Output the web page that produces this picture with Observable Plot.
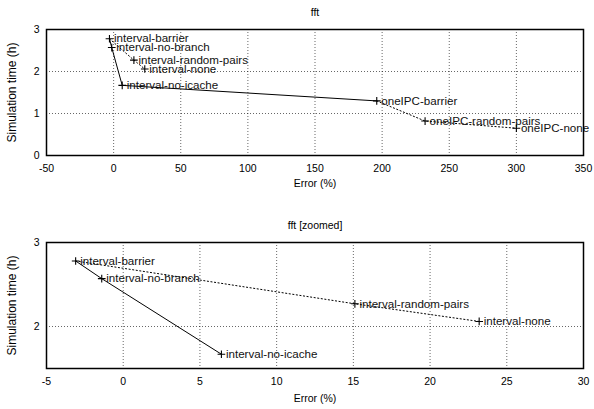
<!DOCTYPE html>
<html>
<head>
<meta charset="utf-8">
<script src="https://cdn.jsdelivr.net/npm/d3@7"></script>
<script src="https://cdn.jsdelivr.net/npm/@observablehq/plot@0.6"></script>
<style>
  html, body { margin: 0; padding: 0; background: #fff; }
  #chart svg { display: block; }
  #chart { width: 594px; }
</style>
</head>
<body>
<div id="chart"></div>
<script>
// ---- Data ----
const labels = ["interval-barrier", "interval-no-branch", "interval-no-icache", "interval-random-pairs", "interval-none", "oneIPC-barrier", "oneIPC-random-pairs", "oneIPC-none"];
const errors = [-3.1, -1.4, 6.4, 15.1, 23.2, 196, 232, 300];
const times  = [2.78, 2.57, 1.67, 2.27, 2.06, 1.30, 0.82, 0.65];

const solidPath = ["interval-barrier", "interval-no-branch", "interval-no-icache", "oneIPC-barrier"];
const dottedPaths = [
  ["interval-barrier", "interval-random-pairs", "interval-none"],
  ["oneIPC-barrier", "oneIPC-random-pairs", "oneIPC-none"]
];

const topTitle = "fft";
const bottomTitle = "fft [zoomed]";
const xLabel = "Error (%)";
const yLabel = "Simulation time (h)";
const topXTicks = [-50, 0, 50, 100, 150, 200, 250, 300, 350];
const topYTicks = [0, 1, 2, 3];
const bottomXTicks = [-5, 0, 5, 10, 15, 20, 25, 30];
const bottomYTicks = [2, 3];

// ---- Build tables ----
const points = labels.map((l, i) => ({label: l, x: errors[i], y: times[i]}));
const byLabel = Object.fromEntries(points.map(p => [p.label, p]));
const solidRows = solidPath.map(l => ({...byLabel[l], g: "solid"}));
const dottedRows = dottedPaths.flatMap((path, k) => path.map(l => ({...byLabel[l], g: "d" + k})));

const FONT = "'Liberation Sans', Arial, Helvetica, sans-serif";
const fmt = d => String(d);

function panel({title, xDomain, yDomain, xTicks, yTicks, height, mt, mb, filter, xLabelDy}) {
  const inRange = p => p.x >= xDomain[0] && p.x <= xDomain[1] && p.y >= yDomain[0] && p.y <= yDomain[1];
  const pts = filter ? points.filter(inRange) : points;
  const sol = filter ? solidRows.filter(inRange) : solidRows;
  const dot = filter ? dottedRows.filter(inRange) : dottedRows;
  return Plot.plot({
    width: 594,
    height,
    marginTop: mt,
    marginBottom: mb,
    marginLeft: 46,
    marginRight: 11,
    style: {fontFamily: FONT, fontSize: "10.5px", color: "#000", background: "#fff", overflow: "visible"},
    x: {domain: xDomain, ticks: xTicks},
    y: {domain: yDomain, ticks: yTicks},
    marks: [
      Plot.gridX(xTicks, {stroke: "#000", strokeOpacity: 0.75, strokeDasharray: "1,2", strokeWidth: 0.8}),
      Plot.gridY(yTicks, {stroke: "#000", strokeOpacity: 0.75, strokeDasharray: "1,2", strokeWidth: 0.8}),
      Plot.axisX(xTicks, {tickSize: 0, tickPadding: 9, label: null, fontSize: 10.5, tickFormat: fmt}),
      Plot.axisY(yTicks, {tickSize: 0, tickPadding: 7, label: null, fontSize: 10.5, tickFormat: fmt}),
      Plot.line(dot, {x: "x", y: "y", z: "g", stroke: "#000", strokeWidth: 1, strokeDasharray: "1.2,2.4"}),
      Plot.line(sol, {x: "x", y: "y", stroke: "#000", strokeWidth: 1}),
      Plot.dot(pts, {x: "x", y: "y", symbol: "plus", r: 2.6, stroke: "#000", strokeWidth: 1.1}),
      Plot.text(pts, {x: "x", y: "y", text: "label", textAnchor: "start", dx: 4.5, fontSize: 11.6, fill: "#111"}),
      Plot.frame({stroke: "#000", strokeWidth: 1.5}),
      Plot.text([title], {frameAnchor: "top", dy: -17, fontSize: 10.5, lineAnchor: "middle"}),
      Plot.text([xLabel], {frameAnchor: "bottom", dy: xLabelDy, fontSize: 10.5, lineAnchor: "middle"}),
      Plot.text([yLabel], {frameAnchor: "left", dx: -34, rotate: -90, textAnchor: "middle", fontSize: 12, lineAnchor: "middle"})
    ]
  });
}

const chart = document.getElementById("chart");
chart.appendChild(panel({
  title: topTitle, xDomain: [-50, 350], yDomain: [0, 3], xTicks: topXTicks, yTicks: topYTicks,
  height: 200, mt: 29, mb: 45, filter: false, xLabelDy: 28.5
}));
chart.appendChild(panel({
  title: bottomTitle, xDomain: [-5, 30], yDomain: [1.5, 3], xTicks: bottomXTicks, yTicks: bottomYTicks,
  height: 209, mt: 42, mb: 41, filter: true, xLabelDy: 30.5
}));
</script>
</body>
</html>
